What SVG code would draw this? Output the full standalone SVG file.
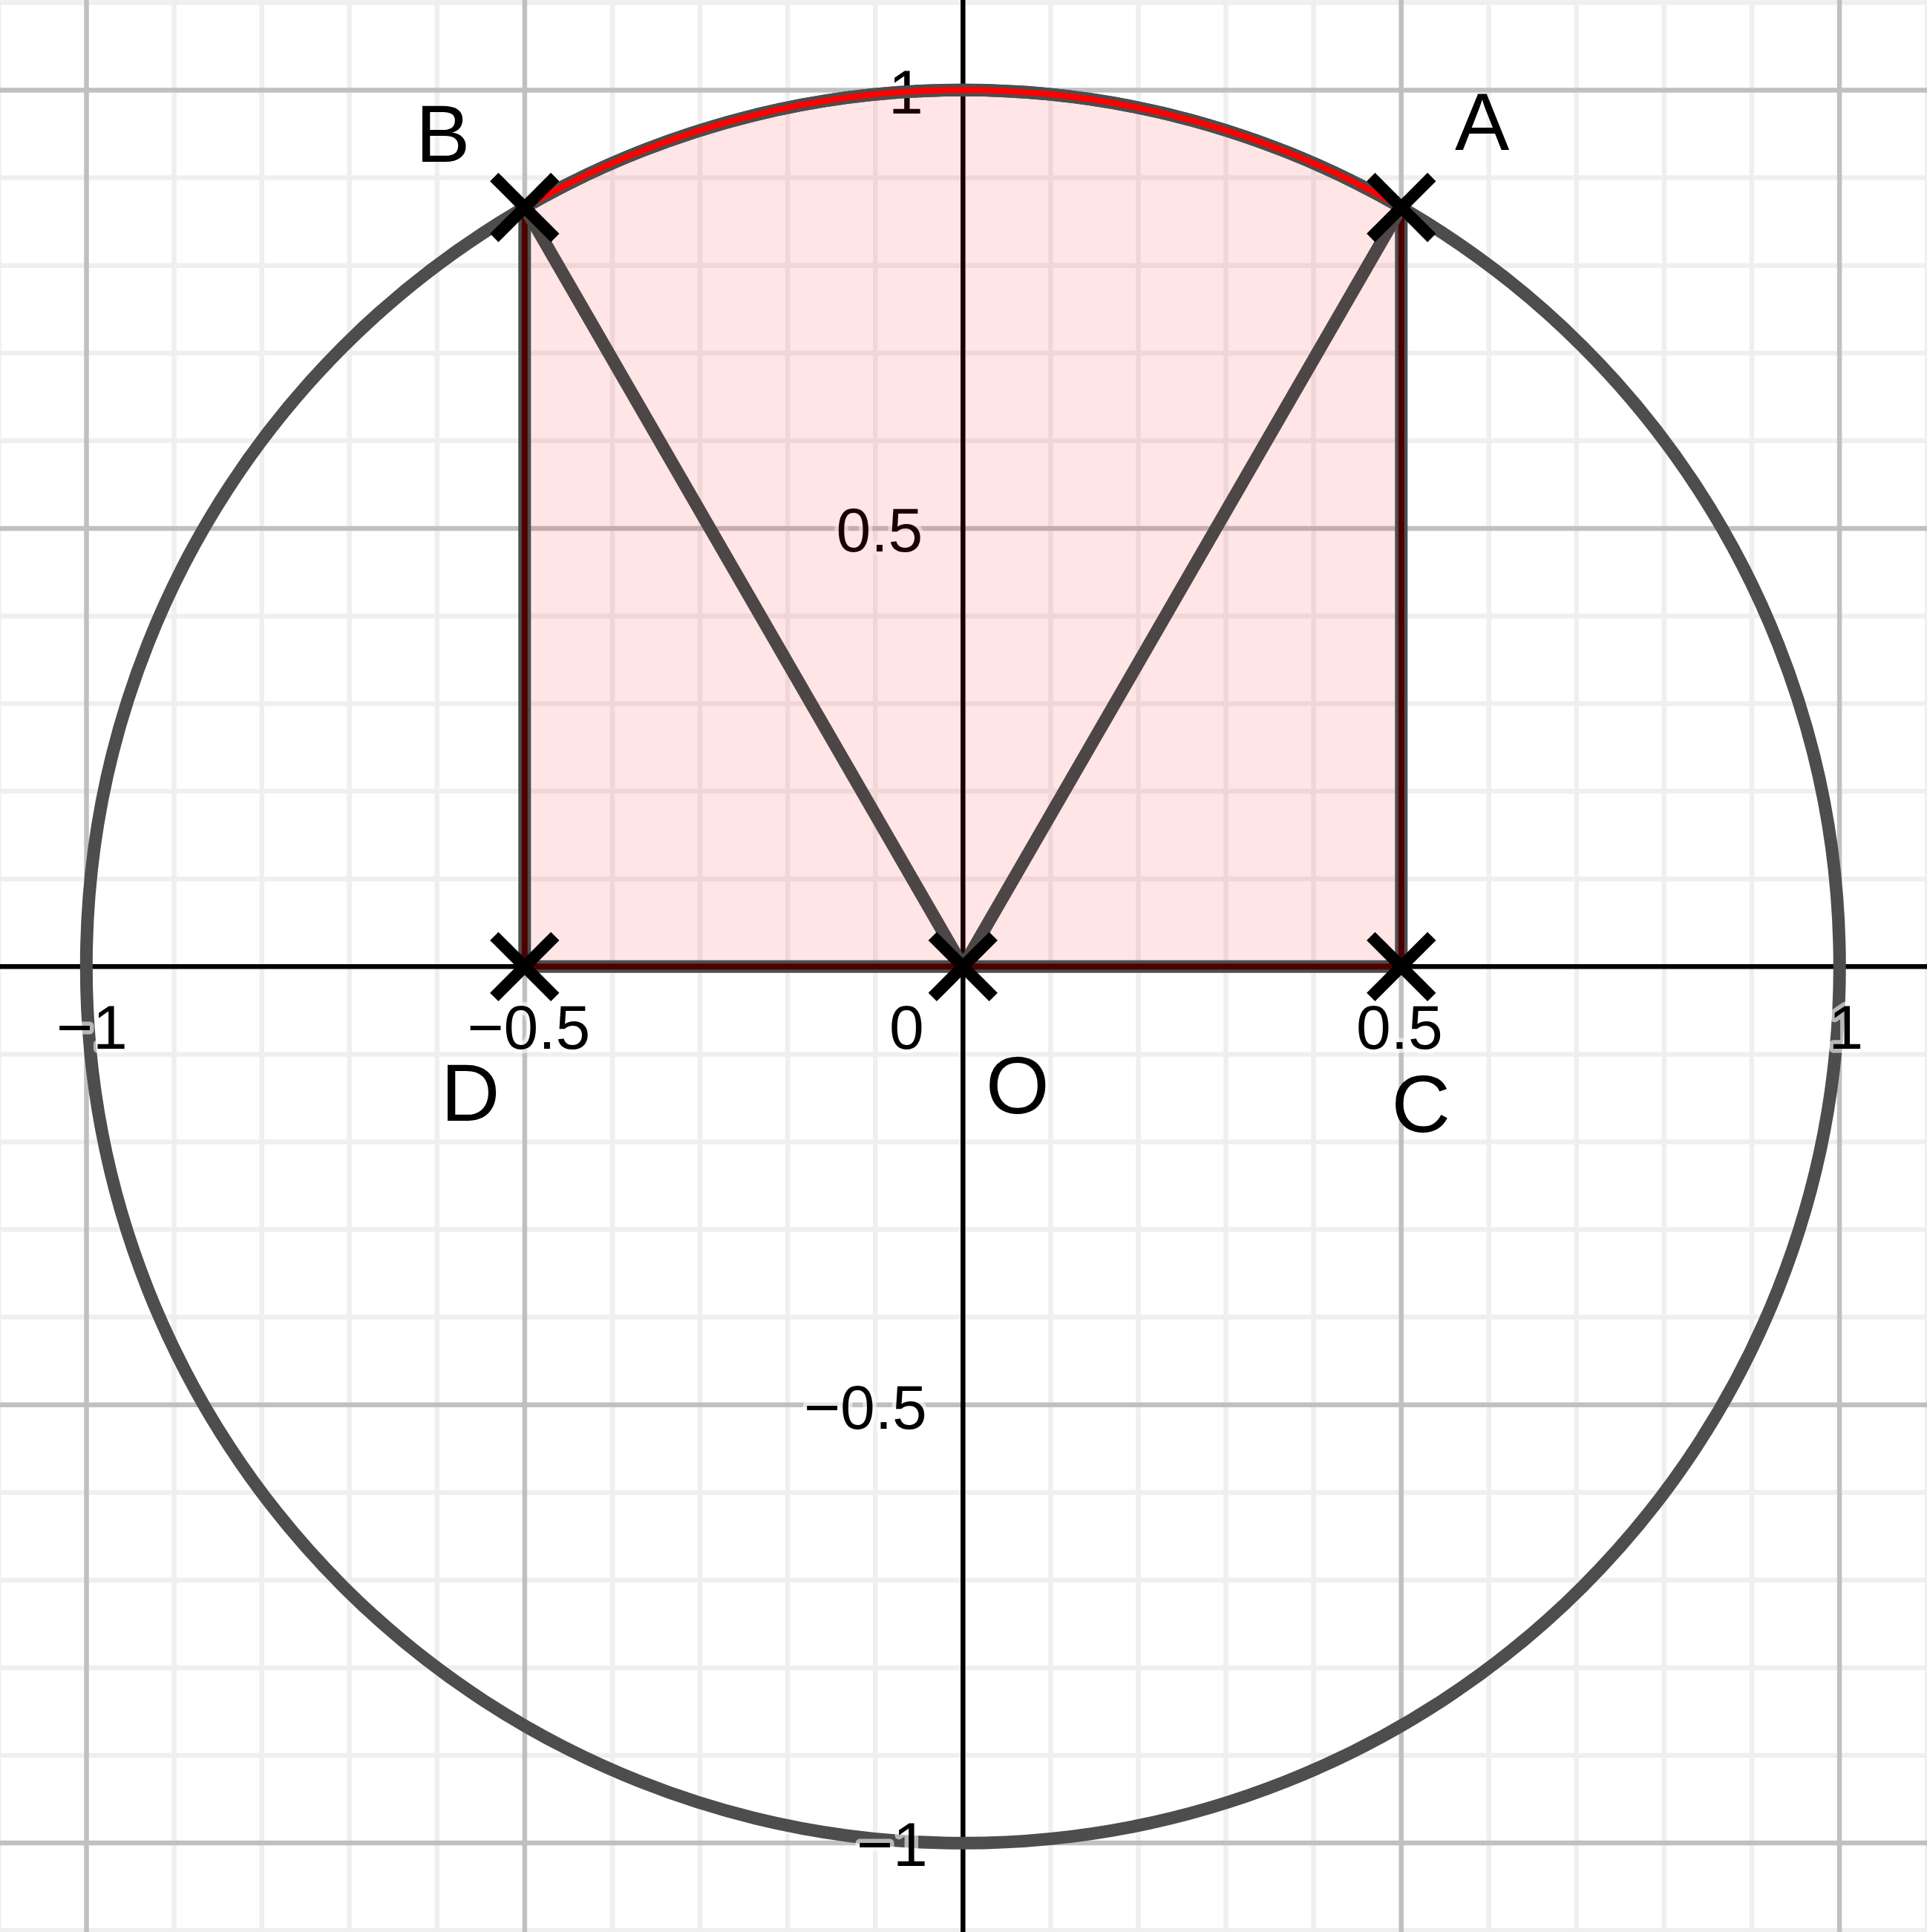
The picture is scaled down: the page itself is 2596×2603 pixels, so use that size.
<svg xmlns="http://www.w3.org/2000/svg" xmlns:xlink="http://www.w3.org/1999/xlink" width="2596" height="2603" viewBox="0 0 2596 2603">
<style>
.minor{stroke:#efefef;stroke-width:6.5;fill:none}
.major{stroke:#c0c0c0;stroke-width:6.5;fill:none}
.axis{stroke:#000;stroke-width:6.5;fill:none}
.tick{font-family:"Liberation Sans",Arial,sans-serif;font-size:84px;fill:#000;stroke:#fff;stroke-opacity:0.6;stroke-width:11;stroke-linejoin:round;paint-order:stroke}
.lbl{font-family:"Liberation Sans",Arial,sans-serif;font-size:110px;fill:#000}
.seg{stroke:#4d4d4d;stroke-width:17;fill:none}
.seg2{stroke:#4d4646;stroke-width:17;fill:none}
.mk{stroke:#000;stroke-width:16;stroke-linecap:butt}
</style>
<defs>
<g id="xmark"><line class="mk" x1="-41" y1="-41" x2="41" y2="41"/><line class="mk" x1="-41" y1="41" x2="41" y2="-41"/></g>
</defs>
<rect width="2596" height="2603" fill="#fff"/>
<g id="grid">
<path class="minor" d="M-1.6 0V2603M234.6 0V2603M352.7 0V2603M470.7 0V2603M588.8 0V2603M825 0V2603M943.1 0V2603M1061.1 0V2603M1179.2 0V2603M1415.4 0V2603M1533.5 0V2603M1651.5 0V2603M1769.6 0V2603M2005.8 0V2603M2123.9 0V2603M2241.9 0V2603M2360 0V2603M2596.2 0V2603M0 3.4H2596M0 239.6H2596M0 357.7H2596M0 475.7H2596M0 593.8H2596M0 830H2596M0 948.1H2596M0 1066.1H2596M0 1184.2H2596M0 1420.4H2596M0 1538.5H2596M0 1656.5H2596M0 1774.6H2596M0 2010.8H2596M0 2128.9H2596M0 2246.9H2596M0 2365H2596M0 2601.2H2596"/>
<path class="major" d="M116.5 0V2603M706.9 0V2603M1887.7 0V2603M2478.1 0V2603M0 121.5H2596M0 711.9H2596M0 1892.7H2596M0 2483.1H2596"/>
<path class="axis" d="M1297.3 0V2603M0 1302.3H2596"/>
</g>
<g id="circle"><circle cx="1297.3" cy="1302.3" r="1181" class="seg"/></g>
<g id="ticks">
<text class="tick" x="76" y="1413">−1</text>
<text class="tick" x="629.5" y="1413">−0.5</text>
<text class="tick" x="1198" y="1413">0</text>
<text class="tick" x="1827" y="1413">0.5</text>
<text class="tick" x="2463.5" y="1413">1</text>
<text class="tick" x="1197" y="153">1</text>
<text class="tick" x="1126.5" y="743">0.5</text>
<text class="tick" x="1083" y="1925">−0.5</text>
<text class="tick" x="1154" y="2514">−1</text>
</g>
<g id="region">
<path d="M706.8 1302.3L706.8 279.5A1181 1181 0 0 1 1887.8 279.5L1887.8 1302.3Z" fill="#ff0000" fill-opacity="0.1" stroke="#4d4d4d" stroke-width="17" stroke-linejoin="round"/>
<path d="M706.8 279.5L706.8 1302.3L1887.8 1302.3L1887.8 279.5" fill="none" stroke="#4d0000" stroke-width="8"/>
<path d="M706.8 279.5A1181 1181 0 0 1 1887.8 279.5" fill="none" stroke="#ff0000" stroke-width="8"/>
</g>
<g id="connectors">
<line class="seg2" x1="1297.3" y1="1302.3" x2="1887.8" y2="279.5"/>
<line class="seg2" x1="1297.3" y1="1302.3" x2="706.8" y2="279.5"/>
</g>
<g id="A"><use xlink:href="#xmark" x="1887.8" y="279.5"/><text class="lbl" x="1960" y="202">A</text></g>
<g id="B"><use xlink:href="#xmark" x="706.8" y="279.5"/><text class="lbl" x="560" y="218">B</text></g>
<g id="C"><use xlink:href="#xmark" x="1887.8" y="1302.3"/><text class="lbl" x="1874.5" y="1525">C</text></g>
<g id="D"><use xlink:href="#xmark" x="706.8" y="1302.3"/><text class="lbl" x="594" y="1510">D</text></g>
<g id="O"><use xlink:href="#xmark" x="1297.3" y="1302.3"/><text class="lbl" x="1328" y="1500">O</text></g>
</svg>
